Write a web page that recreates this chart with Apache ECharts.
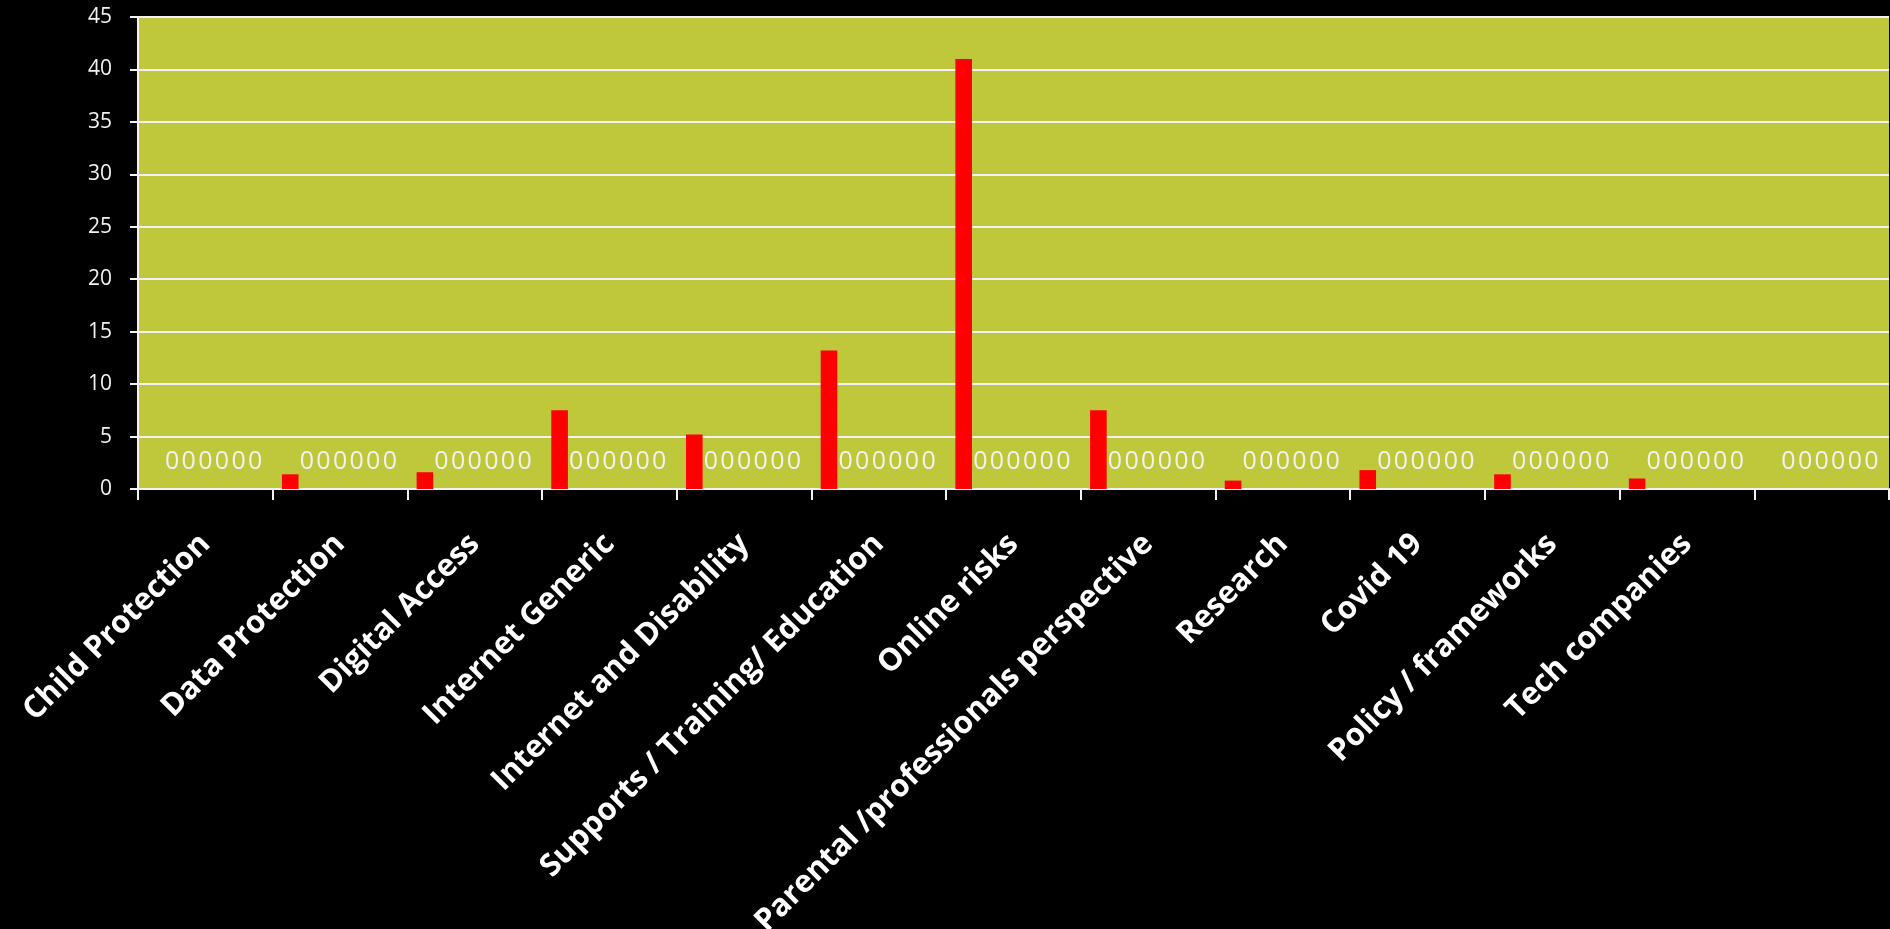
<!DOCTYPE html>
<html>
<head>
<meta charset="utf-8">
<script src="https://cdn.jsdelivr.net/npm/echarts@6/dist/echarts.min.js"></script>
<style>
html,body{margin:0;padding:0;background:#000;}
#chart{width:1890px;height:929px;}
</style>
</head>
<body>
<div id="chart"></div>
<script>
const categories = ['Child Protection','Data Protection','Digital Access','Internet Generic','Internet and Disability','Supports / Training/ Education','Online risks','Parental /professionals perspective','Research','Covid 19','Policy / frameworks','Tech companies',''];
const mainValues = [0, 1.4, 1.6, 7.5, 5.2, 13.2, 41, 7.5, 0.8, 1.8, 1.4, 1.0, 0];
const zeroSeries1 = [0,0,0,0,0,0,0,0,0,0,0,0,0];
const zeroSeries2 = [0,0,0,0,0,0,0,0,0,0,0,0,0];
const zeroSeries3 = [0,0,0,0,0,0,0,0,0,0,0,0,0];
const zeroSeries4 = [0,0,0,0,0,0,0,0,0,0,0,0,0];
const zeroSeries5 = [0,0,0,0,0,0,0,0,0,0,0,0,0];
const zeroSeries6 = [0,0,0,0,0,0,0,0,0,0,0,0,0];
const yTicks = [0,5,10,15,20,25,30,35,40,45];

const chart = echarts.init(document.getElementById('chart'));
const zeroLists = [zeroSeries1, zeroSeries2, zeroSeries3, zeroSeries4, zeroSeries5, zeroSeries6];
const series = [{
  type: 'bar', data: mainValues, barGap: '0%', barCategoryGap: '13.7%',
  itemStyle: { color: '#FF0000' }, animation: false
}];
zeroLists.forEach(d => series.push({
  type: 'bar', data: d, barGap: '0%', barCategoryGap: '13.7%',
  itemStyle: { color: '#FF0000' }, animation: false,
  label: { show: true, position: 'top', distance: 15, color: '#F2F2F2',
           fontFamily: 'Open Sans', fontSize: 25, formatter: p => String(p.value) }
}));

chart.setOption({
  backgroundColor: '#000000',
  animation: false,
  grid: { left: 138, top: 17, right: 1, bottom: 440, show: true,
          containLabel: false, outerBoundsMode: 'none',
          backgroundColor: '#BFC73A', borderWidth: 0 },
  xAxis: {
    type: 'category', data: categories,
    axisLine: { lineStyle: { color: '#F2F2F2', width: 2 } },
    axisTick: { show: true, length: 11, lineStyle: { color: '#F2F2F2', width: 2 } },
    axisLabel: { rotate: 45, interval: 0, margin: 50, color: '#FFFFFF',
                 fontFamily: 'Open Sans', fontWeight: 'bold', fontSize: 31 }
  },
  yAxis: {
    type: 'value', min: yTicks[0], max: yTicks[yTicks.length-1], interval: 5,
    axisLine: { show: true, lineStyle: { color: '#F2F2F2', width: 2 } },
    axisTick: { show: true, length: 8, lineStyle: { color: '#F2F2F2', width: 2 } },
    splitLine: { lineStyle: { color: '#F2F2F2', width: 2 } },
    axisLabel: { margin: 26, color: '#F2F2F2', fontFamily: 'Open Sans', fontSize: 21 }
  },
  series: series
});
</script>
</body>
</html>
